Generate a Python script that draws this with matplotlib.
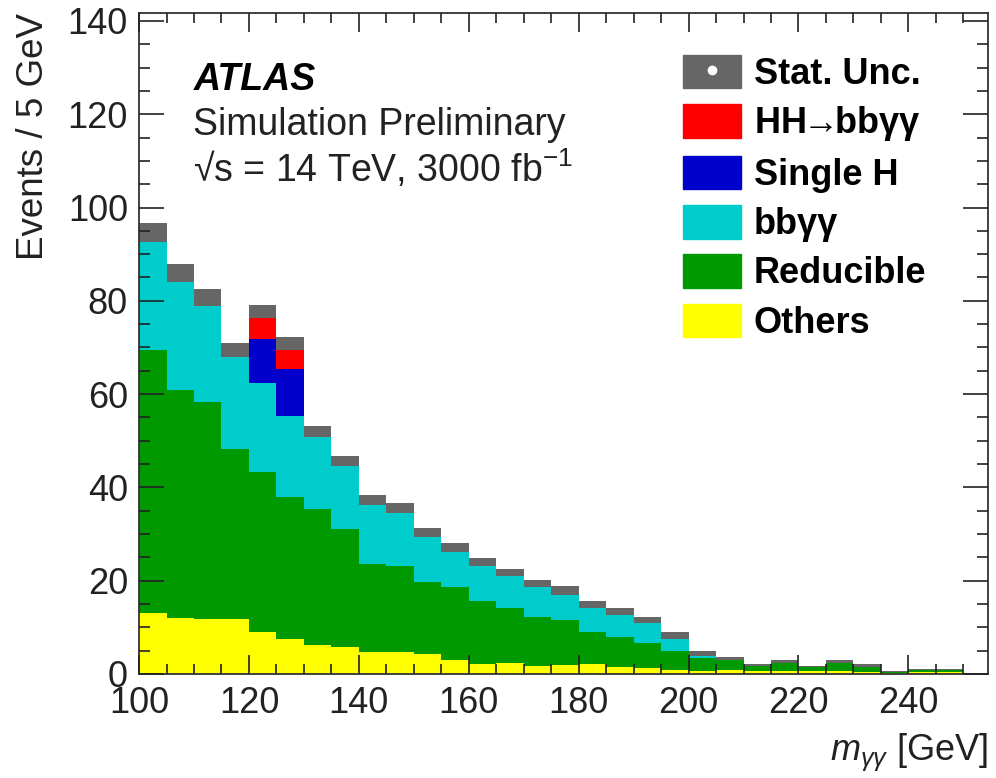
import numpy as np
import matplotlib
matplotlib.use("Agg")
import matplotlib.pyplot as plt
from matplotlib.patches import Patch
from matplotlib.lines import Line2D
from matplotlib.ticker import MultipleLocator

plt.rcParams['font.family'] = ['Liberation Sans', 'DejaVu Sans']
plt.rcParams['mathtext.fontset'] = 'custom'
plt.rcParams['mathtext.rm'] = 'Liberation Sans'
plt.rcParams['mathtext.it'] = 'Liberation Sans:italic'
plt.rcParams['mathtext.bf'] = 'Liberation Sans:bold'

# m_yy bins, 5 GeV wide
edges = np.arange(100, 255, 5)

others = [13.0, 11.9, 11.7, 11.7, 9.1, 7.6, 6.2, 5.7, 4.8, 4.7,
          4.3, 3.0, 2.2, 2.4, 1.8, 1.9, 2.1, 1.4, 1.3, 0.8,
          0.7, 0.9, 0.7, 0.7, 0.6, 0.7, 0.5, 0.3, 0.4, 0.4]
reducible = [56.5, 49.0, 46.5, 36.5, 34.2, 30.3, 29.1, 25.3, 18.8, 18.5,
             15.5, 15.6, 13.5, 11.7, 10.5, 9.7, 7.0, 6.5, 5.3, 4.2,
             2.7, 2.0, 1.0, 1.7, 0.8, 1.7, 1.0, 0.2, 0.5, 0.5]
bbyy = [25.2, 25.1, 22.5, 21.3, 19.0, 17.4, 16.7, 14.6, 13.7, 12.4,
        10.5, 8.5, 8.3, 7.6, 7.1, 6.3, 5.9, 5.5, 5.0, 3.3,
        1.0, 0.45, 0.2, 0.3, 0.2, 0.3, 0.3, 0.1, 0.1, 0.1]
single_h = [0, 0, 0, 0, 9.5, 10.0, 0, 0, 0, 0,
            0, 0, 0, 0, 0, 0, 0, 0, 0, 0,
            0, 0, 0, 0, 0, 0, 0, 0, 0, 0]
hh = [0, 0, 0, 0, 5.9, 5.6, 0, 0, 0, 0,
      0, 0, 0, 0, 0, 0, 0, 0, 0, 0,
      0, 0, 0, 0, 0, 0, 0, 0, 0, 0]
stat_unc = [2.0, 1.9, 1.85, 1.45, 1.4, 1.4, 1.25, 1.1, 1.1, 1.05,
            0.9, 0.9, 0.8, 0.75, 0.8, 0.9, 0.75, 0.75, 0.7, 0.75,
            0.55, 0.35, 0.2, 0.3, 0.15, 0.3, 0.3, 0.1, 0.1, 0.1]

stack = [(others, "#ffff00"), (reducible, "#009900"), (bbyy, "#00cccc"),
         (single_h, "#0000cc"), (hh, "#ff0000")]
gray = "#666666"

fig = plt.figure(figsize=(9.96, 7.78), dpi=100)
ax = fig.add_axes([0.1396, 0.1337, 0.8524, 0.8496])

bottom = np.zeros(len(others))
for vals, col in stack:
    top = bottom + np.array(vals)
    ax.stairs(top, edges, baseline=bottom, fill=True, color=col, lw=0)
    bottom = top
total = bottom
err = np.array(stat_unc)
ax.stairs(total + err, edges, baseline=total - err, fill=True, color=gray, lw=0)

ax.set_xlim(100, 254.5)
ax.set_ylim(0, 141.7)
ax.xaxis.set_major_locator(MultipleLocator(20))
ax.xaxis.set_minor_locator(MultipleLocator(5))
ax.yaxis.set_major_locator(MultipleLocator(20))
ax.yaxis.set_minor_locator(MultipleLocator(5))
ax.tick_params(which='both', direction='in', top=True, right=True,
               labelsize=26, colors='#222222')
ax.tick_params(axis='x', which='major', length=14, width=1.2, pad=9)
ax.tick_params(axis='x', which='minor', length=7, width=1.2)
ax.tick_params(axis='y', which='major', length=18, width=1.2, pad=8)
ax.tick_params(axis='y', which='minor', length=8, width=1.2)
for s in ax.spines.values():
    s.set_linewidth(1.3)
    s.set_color('#333333')
ax.set_axisbelow(False)

ax.set_ylabel("Events / 5 GeV", fontsize=26.5, loc='top', color='#222222')
ax.yaxis.set_label_coords(-0.104, 1.0)
ax.set_xlabel(r"$m_{\gamma\gamma}$ [GeV]", fontsize=26, loc='right', color='#222222')
ax.xaxis.set_label_coords(1.0, -0.088)

fig.text(0.195, 1 - 90 / 778, "ATLAS", fontsize=27, weight='bold', style='italic',
         va='baseline')
fig.text(0.194, 1 - 135 / 778, "Simulation Preliminary", fontsize=27, va='baseline',
         color='#222222')
fig.text(0.194, 1 - 182 / 778, "√s = 14 TeV, 3000 fb$^{-1}$", fontsize=27,
         va='baseline', color='#222222')

handles = [(Patch(color=gray), Line2D([], [], ls='none', marker='o', ms=6,
                                      mfc='white', mec='white')),
           Patch(color="#ff0000"), Patch(color="#0000cc"), Patch(color="#00cccc"),
           Patch(color="#009900"), Patch(color="#ffff00")]
labels = ["Stat. Unc.", r"HH$\!\!\rightarrow\!\!$bbγγ", "Single H", "bbγγ",
          "Reducible", "Others"]
ax.legend(handles, labels, loc='upper left', bbox_to_anchor=(683 / 996, 1 - 55 / 778),
          bbox_transform=fig.transFigure, frameon=False, borderpad=0,
          borderaxespad=0, handlelength=1.6, handleheight=1.05, labelspacing=0.34,
          handletextpad=0.36, prop={'size': 26, 'weight': 'bold'})

fig.savefig("out.png", dpi=100)
